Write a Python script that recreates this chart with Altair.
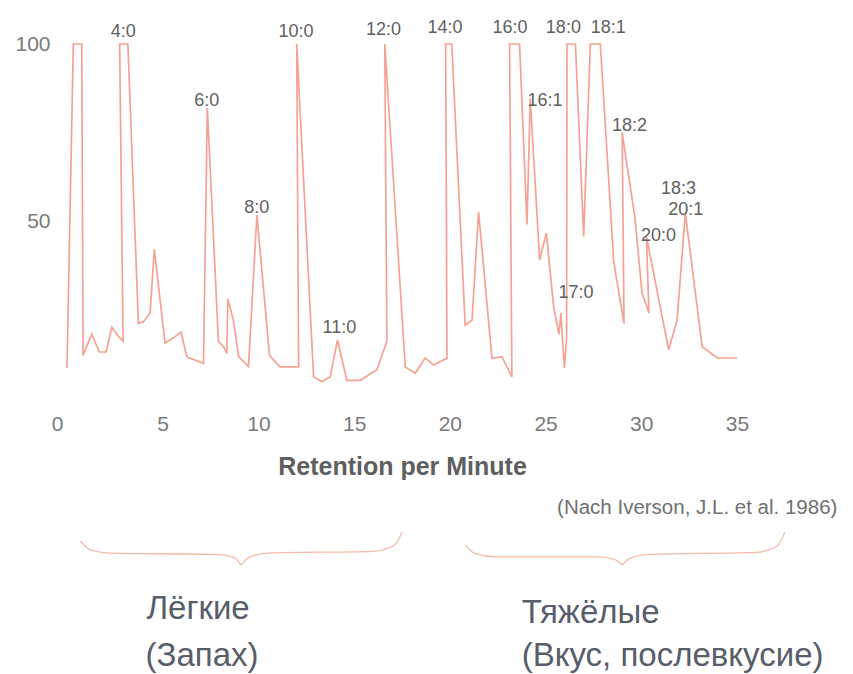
import altair as alt
import pandas as pd

# chromatogram trace (retention minutes, relative intensity), in drawing order
ret = [0.0, 0.33, 0.77, 0.84, 1.29, 1.69, 2.04, 2.34, 2.67, 2.93, 2.75, 3.18, 3.73, 3.99,
       4.34, 4.56, 5.12, 5.56, 5.96, 6.26, 6.69, 7.13, 7.33, 7.91, 8.17, 8.35, 8.4, 8.69,
       8.97, 9.48, 9.92, 10.58, 11.13, 12.1, 12.0, 12.88, 13.31, 13.75, 14.13, 14.62,
       15.32, 16.19, 16.71, 16.6, 17.67, 18.19, 18.71, 19.15, 19.5, 19.85, 19.78, 20.1,
       20.8, 21.16, 21.5, 22.2, 22.72, 23.24, 23.12, 23.64, 24.03, 24.2, 24.69, 25.04,
       25.42, 25.7, 25.8, 25.98, 26.1, 26.12, 26.56, 26.99, 27.34, 27.86, 28.56, 29.1,
       29.0, 29.67, 30.04, 30.4, 30.27, 31.43, 31.87, 32.3, 33.18, 33.97, 35.0]
inten = [8.5, 100, 100, 12, 18, 13, 13, 20, 17.5, 16, 100, 100, 21, 21.5,
         24, 42, 15.5, 17, 18.6, 11.6, 10.7, 9.8, 82, 16, 14.5, 12.6, 28, 22,
         11.7, 8.9, 51.7, 12, 8.8, 8.8, 100, 6, 4.6, 6, 16.4, 5,
         5, 8, 16, 100, 8.8, 7, 11.3, 9.3, 10.3, 11.2, 100, 100,
         20.6, 22, 52.6, 11.2, 11.7, 6, 100, 100, 49, 84.6, 39, 46.6,
         25.8, 18, 24, 8.5, 17, 100, 100, 45.6, 100, 100, 38.5, 21,
         75, 50.8, 29.6, 24, 45.6, 13.6, 22, 52.2, 14.5, 11.3, 11.3]

# peak labels
peak_names = ["4:0", "6:0", "8:0", "10:0", "11:0", "12:0", "14:0", "16:0", "16:1",
              "18:0", "18:1", "18:2", "17:0", "18:3", "20:1", "20:0"]
peak_x = [2.94, 7.3, 9.91, 11.96, 14.23, 16.53, 19.75, 23.14, 24.97,
          25.93, 28.28, 29.38, 26.59, 31.94, 32.32, 30.9]
peak_y = [103.5, 84.0, 53.6, 103.5, 19.7, 104.0, 104.4, 104.4, 84.0,
          104.6, 104.6, 76.8, 29.7, 59.1, 53.2, 45.9]

# curly braces (below the axis, in the chart's own units)
brace_grp = ["a"] * 6 + ["b"] * 6 + ["c"] * 6 + ["d"] * 6
brace_x = [0.7, 1.2, 2.3, 7.8, 8.7, 9.1,
           9.1, 9.5, 10.5, 16.0, 17.1, 17.5,
           20.8, 21.3, 22.4, 27.7, 28.6, 29.0,
           29.0, 29.4, 30.4, 36.0, 37.1, 37.5]
brace_y = [-40.4, -42.8, -43.8, -44.2, -45.0, -47.2,
           -47.2, -45.0, -43.8, -43.3, -41.6, -37.9,
           -41.5, -43.9, -44.9, -44.9, -45.6, -47.2,
           -47.2, -45.3, -44.2, -43.6, -41.8, -37.9]

group_names = ["Лёгкие", "(Запах)", "Тяжёлые", "(Вкус, послевкусие)"]
group_x = [4.15, 4.1, 23.75, 23.75]
group_y = [-59.5, -72.8, -60.6, -72.8]

cite_text = ["(Nach Iverson, J.L. et al. 1986)"]
cite_x = [25.6]
cite_y = [-31.2]

trace = pd.DataFrame({"t": ret, "v": inten, "i": list(range(len(ret)))})
peaks = pd.DataFrame({"name": peak_names, "t": peak_x, "v": peak_y})
braces = pd.DataFrame({"g": brace_grp, "t": brace_x, "v": brace_y})
groups = pd.DataFrame({"name": group_names, "t": group_x, "v": group_y})
cite = pd.DataFrame({"name": cite_text, "t": cite_x, "v": cite_y})

xs = alt.Scale(domain=[0, 35], nice=False, zero=False)
ys = alt.Scale(domain=[0, 100], nice=False)

line = alt.Chart(trace).mark_line(color="#f6a292", strokeWidth=1.7, clip=False).encode(
    x=alt.X("t:Q", scale=xs,
            axis=alt.Axis(values=[0, 5, 10, 15, 20, 25, 30, 35], grid=False, domain=False,
                          ticks=False, tickSize=0, labelPadding=15, labelFontSize=21,
                          labelFlush=False,
                          labelFont="Liberation Sans", labelColor="#7a7a7a",
                          title="Retention per Minute", titleFontSize=25,
                          titleFont="Liberation Sans", titleFontWeight="bold",
                          titleColor="#5e5e5e", titlePadding=20,
                          labelOffset={"condition": {"test": "datum.value == 0", "value": -10},
                                       "value": 0})),
    y=alt.Y("v:Q", scale=ys,
            axis=alt.Axis(values=[50, 100], grid=False, domain=False, ticks=False,
                          tickSize=0, labelPadding=17, labelFontSize=21,
                          labelFont="Liberation Sans", labelColor="#7a7a7a", title=None)),
    order="i:Q",
)

peak_text = alt.Chart(peaks).mark_text(
    fontSize=18, font="Liberation Sans", color="#5f5f5f", baseline="middle", align="center"
).encode(x=alt.X("t:Q", scale=xs), y=alt.Y("v:Q", scale=ys), text="name:N")

brace_lines = alt.Chart(braces).mark_line(
    color="#f3bba8", strokeWidth=1.3, interpolate="monotone", clip=False
).encode(x=alt.X("t:Q", scale=xs), y=alt.Y("v:Q", scale=ys), detail="g:N")

group_text = alt.Chart(groups).mark_text(
    fontSize=33, font="Liberation Sans", color="#585d6a", baseline="middle", align="left"
).encode(x=alt.X("t:Q", scale=xs), y=alt.Y("v:Q", scale=ys), text="name:N")

cite_mark = alt.Chart(cite).mark_text(
    fontSize=20.5, font="Liberation Sans", color="#707070",
    baseline="middle", align="left"
).encode(x=alt.X("t:Q", scale=xs), y=alt.Y("v:Q", scale=ys), text="name:N")

chart = alt.layer(line, peak_text, brace_lines, group_text, cite_mark).properties(
    width=670, height=354,
    background="white",
    autosize=alt.AutoSizeParams(type="none"),
    padding={"left": 59, "top": 36, "right": 100, "bottom": 286},
).configure_view(strokeWidth=0)

chart.save("out.html", embed_options={"renderer": "svg", "actions": False})
